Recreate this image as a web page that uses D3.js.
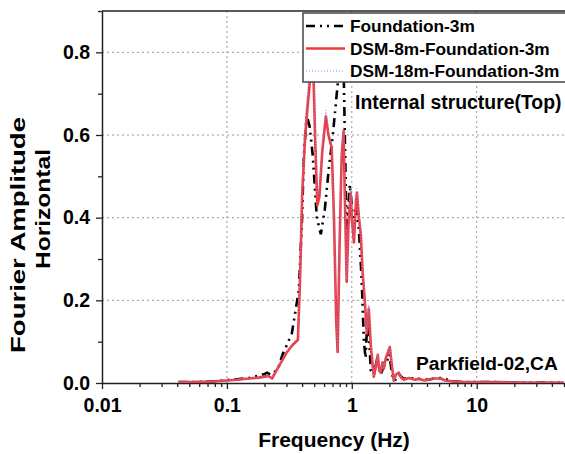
<!DOCTYPE html>
<html><head><meta charset="utf-8">
<script src="https://cdn.jsdelivr.net/npm/d3@7"></script>
<style>body{margin:0;background:#fff}svg{display:block}text{font-family:"Liberation Sans",Arial,sans-serif;font-weight:bold}</style>
</head><body>
<svg id="c" width="565" height="454"></svg>
<script>
// ---- data ----
const seriesNames = ["Foundation-3m", "DSM-8m-Foundation-3m", "DSM-18m-Foundation-3m"];
const freqFoundation = [0.041,0.05,0.065,0.08,0.1,0.12,0.15,0.18,0.2,0.21,0.225,0.24,0.26,0.28,0.3,0.331,0.377,0.4,0.413,0.436,0.46,0.487,0.525,0.565,0.608,0.655,0.705,0.758,0.817,0.847,0.879,0.912,0.964,1.02,1.08,1.14,1.2,1.25,1.29,1.33,1.37,1.42,1.5,1.6,1.7,1.8,1.9,2.0,2.1,2.2,2.4,2.6,2.9,3.4,4.1,4.6,5.2,6.5,7.2,10,15,25,40,50];
const ampFoundation  = [0.002,0.002,0.003,0.004,0.007,0.009,0.012,0.018,0.022,0.025,0.02,0.026,0.04,0.07,0.09,0.12,0.225,0.4,0.55,0.648,0.62,0.55,0.40,0.36,0.42,0.52,0.6,0.7,0.8,0.88,0.6,0.35,0.48,0.4,0.42,0.37,0.25,0.10,0.06,0.15,0.12,0.03,0.02,0.06,0.02,0.04,0.05,0.07,0.02,0.005,0.02,0.01,0.012,0.01,0.008,0.011,0.012,0.004,0.003,0.002,0.002,0.001,0.001,0.001];
const freqDSM = [0.041,0.05,0.065,0.08,0.1,0.12,0.15,0.18,0.205,0.215,0.23,0.26,0.3,0.335,0.37,0.385,0.4,0.42,0.44,0.465,0.48,0.495,0.51,0.53,0.55,0.58,0.62,0.65,0.69,0.72,0.75,0.77,0.8,0.83,0.86,0.88,0.91,0.94,0.98,1.0,1.04,1.08,1.1,1.14,1.18,1.22,1.27,1.318,1.368,1.42,1.5,1.56,1.614,1.66,1.706,1.76,1.803,1.87,1.95,2.015,2.08,2.168,2.25,2.376,2.5,2.605,2.856,3.2,3.43,3.8,4.12,4.6,5.15,5.6,6.5,7.18,10,15,25,40,50];
const ampDSM8 = [0.002,0.002,0.003,0.004,0.006,0.008,0.011,0.013,0.016,0.017,0.011,0.04,0.073,0.092,0.104,0.25,0.45,0.58,0.66,0.74,0.78,0.73,0.58,0.43,0.45,0.56,0.645,0.6,0.57,0.4,0.15,0.075,0.35,0.55,0.61,0.45,0.245,0.38,0.46,0.4,0.34,0.44,0.46,0.4,0.36,0.27,0.2,0.12,0.18,0.09,0.015,0.04,0.068,0.03,0.025,0.05,0.035,0.06,0.075,0.087,0.05,0.005,0.02,0.025,0.012,0.008,0.012,0.008,0.01,0.006,0.008,0.011,0.011,0.006,0.004,0.003,0.002,0.002,0.001,0.001,0.001];
const ampDSM18 = [0.002,0.002,0.003,0.004,0.006,0.008,0.011,0.013,0.016,0.017,0.012,0.042,0.075,0.095,0.11,0.27,0.48,0.62,0.7,0.8,0.84,0.75,0.6,0.45,0.47,0.58,0.66,0.61,0.58,0.41,0.16,0.08,0.36,0.56,0.62,0.46,0.25,0.39,0.47,0.41,0.35,0.45,0.47,0.41,0.37,0.28,0.21,0.125,0.19,0.095,0.016,0.042,0.07,0.032,0.026,0.052,0.036,0.062,0.078,0.09,0.052,0.005,0.021,0.026,0.013,0.008,0.012,0.008,0.01,0.006,0.008,0.011,0.011,0.006,0.004,0.003,0.002,0.002,0.001,0.001,0.001];
const xMajorTicks = [0.01, 0.1, 1, 10];
const xTickLabels = ["0.01", "0.1", "1", "10"];
const yMajorTicks = [0.0, 0.2, 0.4, 0.6, 0.8];
const yTickLabels = ["0.0", "0.2", "0.4", "0.6", "0.8"];
const xTitle = "Frequency (Hz)";
const yTitleLines = ["Fourier Amplitude", "Horizontal"];
const noteTop = "Internal structure(Top)";
const noteBottom = "Parkfield-02,CA";

// ---- chart ----
const svg = d3.select("#c");
const L = 102, R = 564, T = 11, B = 383;
const x = d3.scaleLog().domain([0.01, 50]).range([L, R]);
const y = d3.scaleLinear().domain([0, 0.9]).range([B, T]);

// grid
const grid = svg.append("g").attr("stroke", "#9a9a9a").attr("stroke-width", 1).attr("stroke-dasharray", "2,3");
xMajorTicks.slice(1).forEach(v => grid.append("line").attr("x1", x(v)).attr("x2", x(v)).attr("y1", B).attr("y2", T));
yMajorTicks.slice(1).forEach(v => grid.append("line").attr("x1", L).attr("x2", R).attr("y1", y(v)).attr("y2", y(v)));

// minor ticks
const xMinor = [];
for (let d = 0.01; d < 50; d *= 10) for (let k = 2; k <= 9; k++) { const v = d * k; if (v <= 50) xMinor.push(v); }
const yMinor = [0.1, 0.3, 0.5, 0.7, 0.9];

const xAxis = svg.append("g").attr("transform", `translate(0,${B})`)
  .call(d3.axisBottom(x).tickValues(xMajorTicks).tickFormat((d, i) => xTickLabels[i]).tickSize(6).tickSizeOuter(0));
svg.append("g").attr("transform", `translate(0,${B})`)
  .call(d3.axisBottom(x).tickValues(xMinor).tickFormat("").tickSize(4).tickSizeOuter(0))
  .call(g => g.select(".domain").remove());
const yAxis = svg.append("g").attr("transform", `translate(${L},0)`)
  .call(d3.axisLeft(y).tickValues(yMajorTicks).tickFormat((d, i) => yTickLabels[i]).tickSize(6).tickSizeOuter(0));
svg.append("g").attr("transform", `translate(${L},0)`)
  .call(d3.axisLeft(y).tickValues(yMinor).tickFormat("").tickSize(4).tickSizeOuter(0))
  .call(g => g.select(".domain").remove());
svg.selectAll(".tick line").attr("stroke", "#222").attr("stroke-width", 1.3);
svg.selectAll(".domain").attr("stroke", "#222").attr("stroke-width", 1.5);
xAxis.selectAll("text").attr("font-size", 19.5).attr("font-family", "Liberation Sans").attr("font-weight", "bold").attr("fill", "#000").attr("dy", "1.0em");
yAxis.selectAll("text").attr("font-size", 19.5).attr("font-family", "Liberation Sans").attr("font-weight", "bold").attr("fill", "#000").attr("x", -12);
// top border
svg.append("line").attr("x1", L).attr("x2", R + 2).attr("y1", T).attr("y2", T).attr("stroke", "#222").attr("stroke-width", 1.5);

// lines
svg.append("clipPath").attr("id", "clp").append("rect").attr("x", L).attr("y", T).attr("width", R - L + 2).attr("height", B - T);
const line = d3.line().x(d => x(d[0])).y(d => y(d[1]));
const plot = svg.append("g").attr("clip-path", "url(#clp)");
plot.append("path").datum(d3.zip(freqFoundation, ampFoundation)).attr("d", line)
  .attr("fill", "none").attr("stroke", "#000").attr("stroke-width", 2.6).attr("stroke-dasharray", "9,5,2,5,2,5");
plot.append("path").datum(d3.zip(freqDSM, ampDSM8)).attr("d", line)
  .attr("fill", "none").attr("stroke", "#ee3b3f").attr("stroke-width", 2.6).attr("stroke-linejoin", "round");
plot.append("path").datum(d3.zip(freqDSM, ampDSM18)).attr("d", line)
  .attr("fill", "none").attr("stroke", "#8c8cf5").attr("stroke-width", 1).attr("stroke-dasharray", "1,2");

// legend
const lg = svg.append("g");
lg.append("rect").attr("x", 303).attr("y", 13).attr("width", 266).attr("height", 69).attr("fill", "#fff").attr("stroke", "#444").attr("stroke-width", 1.5);
const styles = [
  {c: "#000", w: 2.6, dash: "9,5,2,5,2,5"},
  {c: "#ee3b3f", w: 2.6, dash: null},
  {c: "#8c8cf5", w: 1, dash: "1,2"}
];
seriesNames.forEach((n, i) => {
  const cy = 26 + i * 22.5;
  lg.append("line").attr("x1", 306).attr("x2", 345).attr("y1", cy).attr("y2", cy)
    .attr("stroke", styles[i].c).attr("stroke-width", styles[i].w).attr("stroke-dasharray", styles[i].dash);
  lg.append("text").attr("x", 350).attr("y", cy + 6).attr("font-size", 17.3).text(n);
});

// annotations
svg.append("text").attr("x", 355).attr("y", 109).attr("font-size", 19.4).text(noteTop);
svg.append("text").attr("x", 416).attr("y", 370).attr("font-size", 19.2).text(noteBottom);

// titles
svg.append("text").attr("x", 334).attr("y", 447).attr("text-anchor", "middle").attr("font-size", 21).text(xTitle);
svg.append("text").attr("transform", "translate(25,235) rotate(-90)").attr("text-anchor", "middle").attr("font-size", 21)
  .attr("textLength", 236).attr("lengthAdjust", "spacingAndGlyphs").text(yTitleLines[0]);
svg.append("text").attr("transform", "translate(50,209) rotate(-90)").attr("text-anchor", "middle").attr("font-size", 21)
  .attr("textLength", 120).attr("lengthAdjust", "spacingAndGlyphs").text(yTitleLines[1]);
</script>
</body></html>
